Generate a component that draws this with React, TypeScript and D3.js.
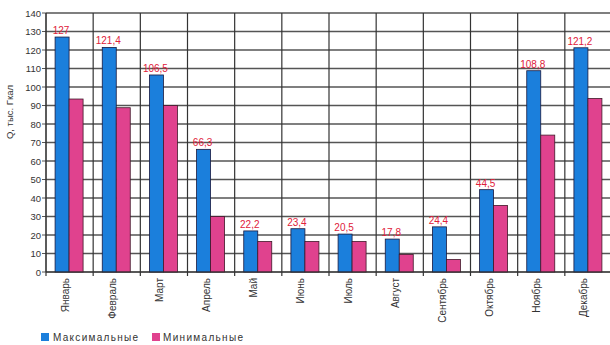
import React from "react";
import * as d3 from "d3";

const months = ["Январь","Февраль","Март","Апрель","Май","Июнь","Июль","Август","Сентябрь","Октябрь","Ноябрь","Декабрь"];
const maxValues = [127, 121.4, 106.5, 66.3, 22.2, 23.4, 20.5, 17.8, 24.4, 44.5, 108.8, 121.2];
const minValues = [93.5, 88.8, 90, 30, 16.5, 16.5, 16.5, 9.5, 6.8, 36, 74, 93.8];
const yTicks = [0,10,20,30,40,50,60,70,80,90,100,110,120,130,140];
const seriesNames = ["Максимальные", "Минимальные"];

const W = 610, H = 345;
const left = 46, right = 612, top = 13, bottom = 272;
const BLUE = "#1b7fdc";
const PINK = "#e0428e";

export default function App() {
  const x = d3.scaleBand<string>().domain(months).range([left, right]);
  const y = d3.scaleLinear().domain([0, 140]).range([bottom, top]);
  const inner = d3.scaleBand<string>().domain(["max","min"]).range([0, 28]);
  const groupOff = (x.bandwidth() - 28) / 2 - 0.5;
  const fmt = (v: number) => String(v).replace(".", ",");
  const font = "Liberation Sans, Arial, sans-serif";
  return (
    <svg width={W} height={H} style={{position:"absolute", left:0, top:0, background:"#fff"}} fontFamily={font}>
      {yTicks.map(t => (
        <g key={t}>
          <line x1={left} x2={W} y1={y(t)} y2={y(t)} stroke="#555" strokeWidth={1.3} />
          <line x1={left-4} x2={left} y1={y(t)} y2={y(t)} stroke="#555" />
          <text x={left-5} y={y(t)+3.5} fontSize={9.5} textAnchor="end" fill="#333">{t}</text>
        </g>
      ))}
      {months.map((m) => (
        <line key={m} x1={x(m)!} x2={x(m)!} y1={top} y2={bottom+4} stroke="#333" strokeWidth={1.2} />
      ))}
      <line x1={left} x2={left} y1={top} y2={bottom} stroke="#333" />
      {months.map((m, i) => {
        const bx = x(m)! + groupOff;
        return (
          <g key={m}>
            <rect x={bx + inner("max")!} y={y(maxValues[i])} width={inner.bandwidth()} height={bottom - y(maxValues[i])} fill={BLUE} stroke="#1a1a40" strokeWidth={0.8} />
            <rect x={bx + inner("min")!} y={y(minValues[i])} width={inner.bandwidth()} height={bottom - y(minValues[i])} fill={PINK} stroke="#401a2a" strokeWidth={0.8} />
            <text x={bx + inner("max")! + inner.bandwidth()/2 - 1} y={y(maxValues[i]) - 3} fontSize={10} textAnchor="middle" fill="#e0203a">{fmt(maxValues[i])}</text>
          </g>
        );
      })}
      <line x1={left} x2={W} y1={bottom} y2={bottom} stroke="#333" />
      {months.map(m => {
        const cx = x(m)! + x.bandwidth()/2 - 1;
        return (
          <text key={m} transform={`translate(${cx},${bottom + 6}) rotate(-90)`} fontSize={10} textAnchor="end" fill="#333">{m}</text>
        );
      })}
      <text transform={`translate(13,112) rotate(-90)`} fontSize={9.5} textAnchor="middle" fill="#333">Q, тыс. Гкал</text>
      <rect x={41} y={333} width={8} height={8} fill={BLUE} />
      <text x={53} y={341} fontSize={10} textLength={85} fill="#333">{seriesNames[0]}</text>
      <rect x={152} y={333} width={8} height={8} fill={PINK} />
      <text x={163} y={341} fontSize={10} textLength={80} fill="#333">{seriesNames[1]}</text>
    </svg>
  );
}
